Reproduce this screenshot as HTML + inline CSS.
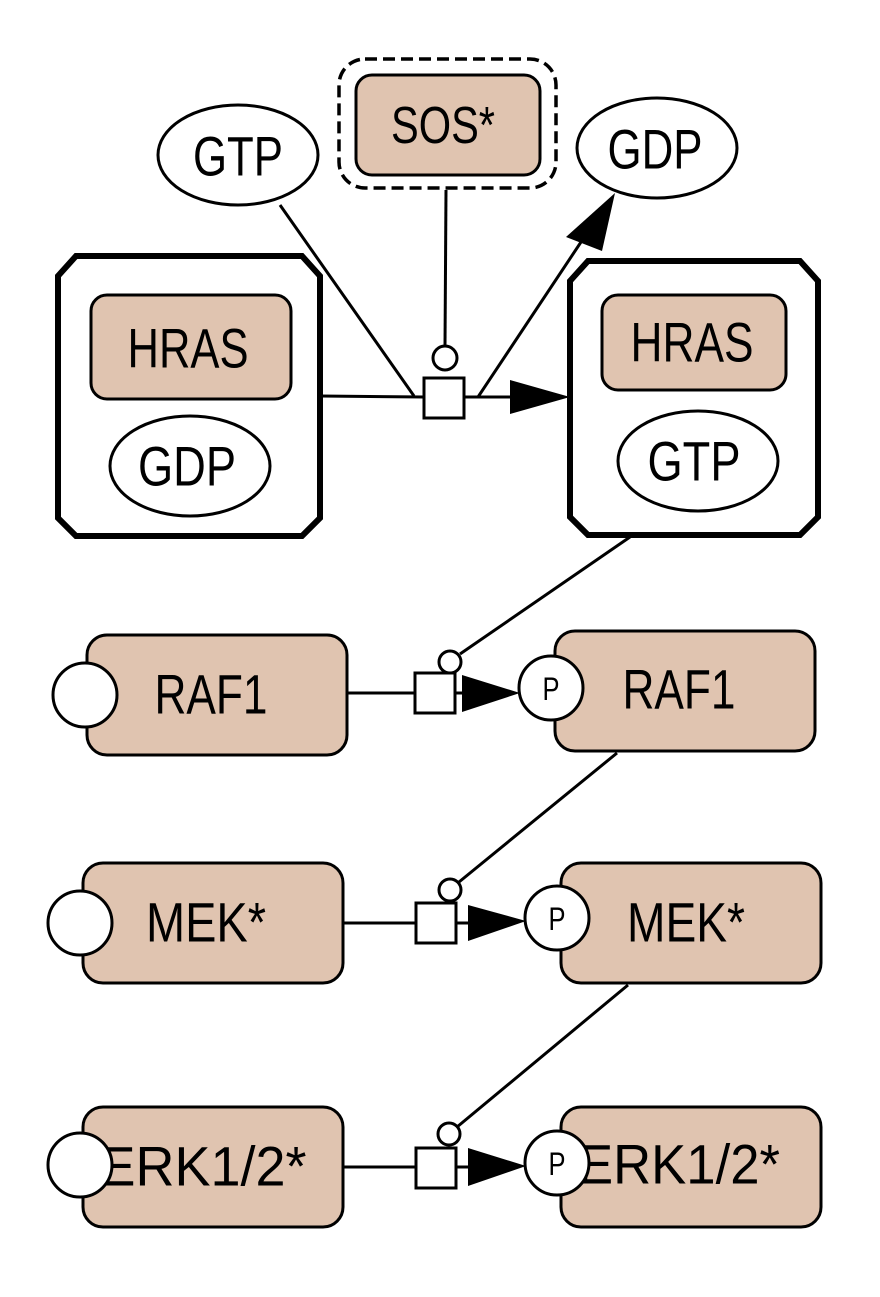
<!DOCTYPE html>
<html><head><meta charset="utf-8"><style>html,body{margin:0;padding:0;background:#fff}svg{display:block}text{font-family:"Liberation Sans",sans-serif;text-anchor:middle;dominant-baseline:central;fill:#000}</style></head><body>
<svg width="880" height="1297" viewBox="0 0 880 1297" xmlns="http://www.w3.org/2000/svg">
<g stroke="#000" stroke-width="3" fill="none">
<line x1="446" y1="190" x2="445" y2="346"/>
<line x1="280" y1="205" x2="414" y2="396"/>
<line x1="320" y1="396" x2="424" y2="397"/>
<line x1="464" y1="397" x2="512" y2="397"/>
<line x1="478" y1="397" x2="585" y2="236"/>
<line x1="630" y1="537" x2="460" y2="654"/>
<line x1="347" y1="693" x2="415" y2="693"/>
<line x1="455" y1="693" x2="464" y2="693"/>
<line x1="617" y1="753" x2="459" y2="882"/>
<line x1="343" y1="923" x2="416" y2="923"/>
<line x1="456" y1="923" x2="468" y2="923"/>
<line x1="628" y1="985" x2="457" y2="1127"/>
<line x1="343" y1="1167" x2="416" y2="1167"/>
<line x1="456" y1="1167" x2="468" y2="1167"/>
</g>
<g fill="#000">
<polygon points="510,380 510,414 570,397"/>
<polygon points="615,193 566,237 602,251"/>
<polygon points="462,675 462,712 520,693"/>
<polygon points="468,905 468,941 526,921"/>
<polygon points="468,1148 468,1186 526,1166"/>
</g>
<g stroke="#000" stroke-width="3">
<ellipse cx="238" cy="155" rx="80" ry="50" fill="#fff"/>
<ellipse cx="657" cy="148" rx="80" ry="50" fill="#fff"/>
<rect x="339" y="59" width="217" height="129" rx="26" fill="#fff" stroke-dasharray="12,6" stroke-width="3.5"/>
<rect x="356" y="75" width="184" height="100" rx="16" fill="#e0c4b0"/>
<polygon points="76,256 302,256 320,276 320,518 302,536 76,536 58,518 58,276" fill="#fff" stroke-width="6"/>
<rect x="91" y="295" width="200" height="104" rx="16" fill="#e0c4b0"/>
<ellipse cx="190" cy="466" rx="80" ry="50" fill="#fff"/>
<polygon points="588,261 800,261 818,281 818,517 800,535 588,535 570,517 570,281" fill="#fff" stroke-width="6"/>
<rect x="602" y="295" width="184" height="95" rx="16" fill="#e0c4b0"/>
<ellipse cx="698" cy="461" rx="80" ry="50" fill="#fff"/>
<rect x="424" y="378" width="40" height="40" fill="#fff"/>
<circle cx="445" cy="358" r="12" fill="#fff"/>

<rect x="87" y="635" width="260" height="120" rx="20" fill="#e0c4b0"/>
<circle cx="85" cy="695" r="32" fill="#fff"/>
<rect x="555" y="631" width="260" height="120" rx="20" fill="#e0c4b0"/>
<circle cx="551" cy="688" r="32" fill="#fff"/>
<rect x="415" y="673" width="40" height="40" fill="#fff"/>
<circle cx="450" cy="662" r="11" fill="#fff"/>

<rect x="83" y="863" width="260" height="120" rx="20" fill="#e0c4b0"/>
<circle cx="80" cy="923" r="32" fill="#fff"/>
<rect x="561" y="863" width="260" height="120" rx="20" fill="#e0c4b0"/>
<circle cx="557" cy="918" r="32" fill="#fff"/>
<rect x="416" y="903" width="40" height="40" fill="#fff"/>
<circle cx="450" cy="890" r="11" fill="#fff"/>

<rect x="83" y="1107" width="260" height="120" rx="20" fill="#e0c4b0"/>
<rect x="561" y="1107" width="260" height="120" rx="20" fill="#e0c4b0"/>
<rect x="416" y="1148" width="40" height="40" fill="#fff"/>
<circle cx="449" cy="1134" r="11" fill="#fff"/>
</g>
<g font-size="56">
<text x="238" y="156" textLength="90" lengthAdjust="spacingAndGlyphs">GTP</text>
<text x="655" y="149" textLength="95" lengthAdjust="spacingAndGlyphs">GDP</text>
<text x="443" y="126" font-size="52" textLength="104" lengthAdjust="spacingAndGlyphs">SOS*</text>
<text x="188" y="348" textLength="121" lengthAdjust="spacingAndGlyphs">HRAS</text>
<text x="187" y="466" textLength="98" lengthAdjust="spacingAndGlyphs">GDP</text>
<text x="692" y="342" textLength="123" lengthAdjust="spacingAndGlyphs">HRAS</text>
<text x="694" y="461" textLength="93" lengthAdjust="spacingAndGlyphs">GTP</text>
<text x="211" y="694" textLength="113" lengthAdjust="spacingAndGlyphs">RAF1</text>
<text x="679" y="689" textLength="113" lengthAdjust="spacingAndGlyphs">RAF1</text>
<text x="206" y="922" textLength="120" lengthAdjust="spacingAndGlyphs">MEK*</text>
<text x="686" y="922" textLength="118" lengthAdjust="spacingAndGlyphs">MEK*</text>
<text x="203" y="1166" textLength="207" lengthAdjust="spacingAndGlyphs">ERK1/2*</text>
<text x="679" y="1164" textLength="202" lengthAdjust="spacingAndGlyphs">ERK1/2*</text>
<text x="551" y="689" font-size="32" textLength="17" lengthAdjust="spacingAndGlyphs">P</text>
<text x="557" y="919" font-size="32" textLength="17" lengthAdjust="spacingAndGlyphs">P</text>
</g>
<g stroke="#000" stroke-width="3" fill="#fff">
<circle cx="80" cy="1165" r="32"/>
<circle cx="557" cy="1163" r="32"/>
</g>
<text x="557" y="1164" font-size="32" textLength="17" lengthAdjust="spacingAndGlyphs">P</text>
</svg>
</body></html>
